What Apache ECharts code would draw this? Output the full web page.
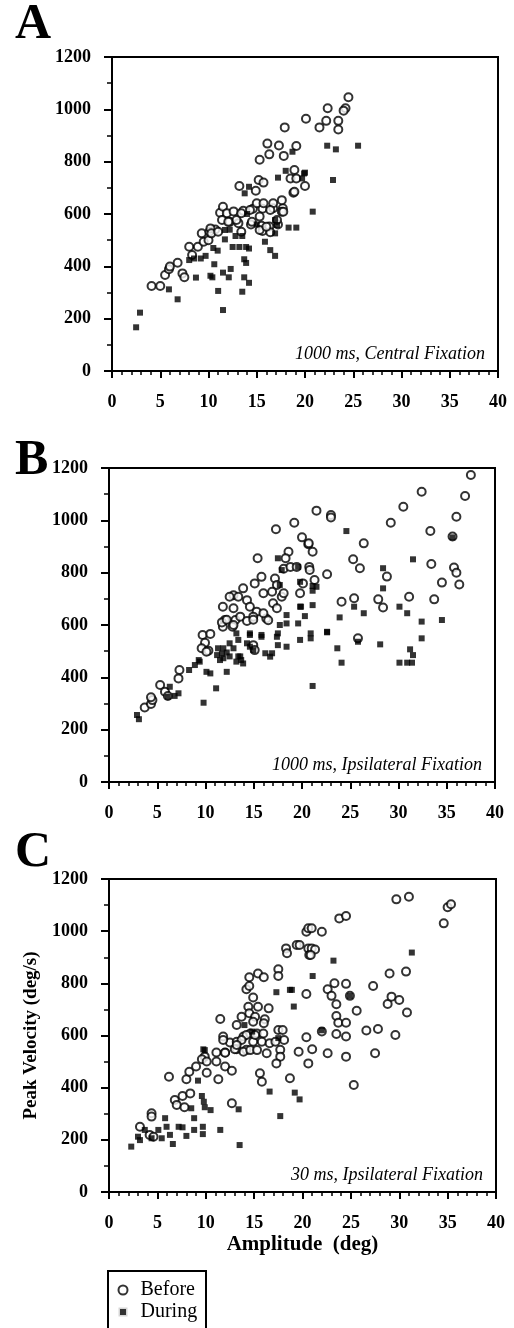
<!DOCTYPE html>
<html><head><meta charset="utf-8">
<script src="https://cdn.jsdelivr.net/npm/echarts@6/dist/echarts.min.js"></script>
<style>html,body{margin:0;padding:0;background:#fff}#c{width:514px;height:1328px}</style>
</head><body><div id="c"></div>
<script>
// ---- data (x = amplitude deg, y = peak velocity deg/s) ----
var xTicks = [0, 5, 10, 15, 20, 25, 30, 35, 40];
var yTicks = [0, 200, 400, 600, 800, 1000, 1200];
var panelLetters = ['A', 'B', 'C'];
var panelNotes = ['1000 ms, Central Fixation', '1000 ms, Ipsilateral Fixation', '30 ms, Ipsilateral Fixation'];
var seriesNames = ['Before', 'During'];

var aBefore = [[4.1,325],[5.0,325],[5.5,367],[5.9,389],[6.0,399],[6.8,414],[7.3,373],[7.5,358],[8.0,475],[8.3,443],[8.9,475],[9.3,526],[9.5,494],[10.0,500],[10.1,532],[10.7,541],[11.2,605],[11.5,628],[11.9,603],[11.4,577],[12.6,610],[13.6,612],[14.6,620],[15.6,620],[16.7,622],[17.7,622],[12.2,570],[13.1,565],[14.4,560],[15.5,555],[16.3,552],[17.2,560],[15.6,535],[16.4,530],[17.6,609],
[20.1,964],[17.9,931],[16.1,869],[17.3,862],[19.1,860],[16.3,828],[17.8,822],[15.3,807],[18.9,768],[18.5,736],[20.0,707],[18.8,681],[13.2,707],[14.9,689],[15.2,730],[15.7,720],
[24.5,1046],[24.2,1004],[24.0,995],[22.35,1004],[22.2,956],[21.5,931],[23.45,956],[23.45,923],[19.1,736],[18.9,685],
[15.0,641],[15.7,641],[16.7,641],[17.6,653],[17.75,609],[16.4,615],[15.3,590],[14.5,570],[12.9,577],[12.05,570],[10.2,545],[10.3,526],[11.0,532],[13.4,532],[15.3,539],[16.0,551],[17.1,577],[14.3,615],[13.4,603]];
var aDuring = [[2.5,167],[2.9,223],[5.9,312],[6.8,274],[8.7,357],[8.0,424],[8.5,430],[9.2,430],[10.2,364],[10.4,358],[10.6,408],[11.0,306],[11.5,233],[11.5,376],[12.1,358],[12.3,390],[10.95,460],[11.7,503],[13.5,303],[13.7,427],[13.9,413],[13.7,358],[14.2,337],[12.5,474],[13.2,474],[13.9,474],[14.2,468],[12.8,516],[13.5,516],[15.85,494],[16.4,462],[16.9,440],[16.9,526],[17.1,558],[18.3,548],[19.1,548],[11.7,539],
[18.0,765],[17.2,739],[19.9,755],[14.2,704],[13.75,679],[22.3,861],[23.2,847],[25.5,861],[22.9,730],[20.0,758],[19.7,736],[20.8,609],[18.7,838],[16.9,577],[15.0,560],[14.0,600],[12.2,540],[10.5,470],[9.7,440]];

var bBefore = [[19.2,991],[17.3,966],[20.0,935],[20.65,909],[18.6,880],[18.3,855],[15.4,855],[18.1,815],[18.8,822],[19.45,822],[20.75,822],[15.8,784],[15.1,759],[13.9,740],[12.9,714],[12.5,708],[11.8,670],[17.2,778],[17.4,753],[16.9,727],[17.9,708],[18.1,721],[17.0,683],[17.4,664],[20.1,759],[19.8,721],[13.4,708],[14.3,695],[16.0,721],[14.6,670],[15.3,651],[16.3,625],[14.95,632],[16.0,645],[12.9,664],[12.0,619],[13.1,619],[13.6,632],[11.8,593],[12.8,593],[9.7,562],[10.5,566],[9.95,532],[9.6,511],[10.3,502],
[3.7,285],[4.35,298],[4.5,313],[4.35,324],[5.3,371],[5.8,345],[6.1,329],[7.3,428],[7.2,396],[10.1,498],[11.7,610],[12.2,620],[12.9,600],[14.3,615],[14.95,620],[16.5,618],[14.95,523],[15.1,504],
[37.5,1173],[32.4,1109],[36.9,1093],[30.5,1052],[36.0,1014],[21.5,1037],[23.0,1020],[23.0,1011],[29.2,991],[33.3,959],[35.6,938],[20.7,912],[21.1,880],[26.4,912],[25.3,851],[26.0,817],[33.4,833],[35.75,820],[36.0,800],[36.3,755],[34.5,762],[28.8,785],[20.8,810],[22.6,794],[21.3,772],[24.1,689],[25.4,702],[27.9,698],[28.4,667],[31.1,708],[33.7,698],[25.8,549]];
var bDuring = [[17.5,855],[17.9,810],[17.7,753],[19.6,822],[19.8,670],[18.4,638],[19.6,606],[17.7,600],[15.8,562],[17.5,568],[18.4,517],[17.5,523],[19.8,543],[16.9,492],[14.6,568],[13.4,543],[14.3,530],[14.6,517],[14.95,504],[11.7,490],[12.2,495],[11.2,485],[12.5,480],[13.4,480],[13.6,480],[9.3,466],[11.5,466],
[2.9,256],[3.1,240],[6.3,364],[6.1,326],[6.8,329],[7.2,339],[8.3,428],[8.9,447],[9.4,460],[9.8,303],[11.1,358],[10.1,421],[10.5,415],[12.2,421],[11.85,473],[11.3,511],[11.85,511],[12.9,511],[12.5,530],[13.2,460],[13.9,453],[13.7,466],[13.2,568],[14.6,562],[15.8,555],[16.2,492],[16.7,479],[17.4,555],[18.4,606],
[24.6,959],[31.5,851],[28.4,817],[28.4,740],[19.8,765],[21.1,749],[21.5,746],[21.1,731],[21.1,676],[19.9,670],[20.3,634],[20.9,568],[20.9,549],[22.6,574],[23.9,629],[26.4,645],[25.4,670],[30.1,670],[30.9,645],[32.4,613],[34.5,619],[32.4,549],[28.1,526],[23.66,511],[31.2,507],[31.5,485],[24.1,456],[21.1,367],[25.8,536],[30.1,456],[30.9,456],[31.4,456],[35.6,935],[22.6,572]];

var cBefore = [[20.4,998],[20.6,1011],[18.3,934],[18.4,915],[19.4,947],[19.7,947],[20.6,934],[20.7,909],[17.5,854],[17.5,828],[14.5,823],[15.4,838],[16.0,823],[14.2,777],[14.5,790],[14.9,746],[20.4,759],[14.4,710],[15.4,710],[16.5,704],[14.5,685],[15.1,672],[16.1,662],[13.7,672],[13.2,640],[11.5,663],
[11.8,596],[12.5,573],[13.2,576],[13.9,596],[14.6,608],[15.3,608],[15.95,608],[14.9,576],[15.8,576],[16.6,570],[17.5,621],[17.95,621],[18.1,583],[17.7,545],[17.2,576],[20.4,593],[19.6,538],[16.3,532],[14.2,545],[13.2,547],[12.0,535],[11.1,535],[9.9,519],
[3.2,250],[4.4,302],[4.4,289],[4.2,219],[4.6,212],[6.2,442],[6.8,353],[7.0,334],[7.8,325],[7.6,368],[8.4,378],[8.0,432],[8.3,461],[9.0,481],[9.6,509],[10.1,500],[10.1,457],[11.1,500],[11.3,432],[12.0,481],[12.7,465],[12.0,534],[13.0,547],[11.8,583],[12.7,340],[14.9,653],[16.0,647],[15.1,602],[14.2,602],[13.7,583],[13.2,564],[13.9,538],[14.6,544],[15.3,544],[17.7,519],[17.3,493],[15.6,455],[15.8,423],[18.7,436],[20.6,493],
[29.7,1122],[31.0,1132],[35.0,1092],[35.35,1103],[34.6,1030],[23.8,1049],[24.5,1058],[20.95,1011],[22.0,998],[20.95,934],[21.3,930],[20.85,909],[29.0,838],[30.7,845],[23.3,800],[24.5,798],[22.6,777],[23.0,752],[23.5,720],[24.9,752],[25.6,695],[27.3,790],[28.8,721],[29.2,749],[30.0,736],[30.8,688],[23.5,675],[23.7,649],[24.5,649],[24.5,596],[23.5,606],[22.0,615],[26.6,619],[27.8,625],[29.6,602],[21.0,547],[22.6,532],[24.5,519],[27.5,532],[25.3,410]];
var cDuring = [[17.3,766],[18.7,775],[19.1,711],[9.75,547],[2.3,174],[3.0,212],[3.2,199],[3.7,238],[4.4,206],[5.1,238],[5.45,206],[5.8,283],[5.95,250],[6.3,219],[6.6,184],[7.2,250],[7.6,248],[8.0,215],[8.8,283],[8.8,238],[9.7,250],[9.7,222],[8.5,321],[9.6,368],[9.8,346],[9.9,325],[10.5,314],[9.2,427],[9.9,544],[11.5,238],[13.4,317],[17.7,291],[13.5,180],[16.6,385],[19.2,381],[19.7,355],[23.2,887],[21.05,828],[31.3,918],[18.9,775],[24.9,752],[22.0,620],[14.0,640],[14.8,615],[17.5,590]];

var panelData = [[aBefore, aDuring], [bBefore, bDuring], [cBefore, cDuring]];

// ---- layout ----
var grids = [
  {left: 112, top: 57, width: 386, height: 314},
  {left: 109, top: 468, width: 386, height: 314},
  {left: 109, top: 879, width: 387, height: 313}
];
var letterY = [50, 486, 878];
var FONT = '"Liberation Serif", "Times New Roman", serif';

var chart = echarts.init(document.getElementById('c'), null, {renderer: 'canvas'});
var xAxes = [], yAxes = [], series = [], graphics = [];
grids.forEach(function (g, i) {
  g.show = true; g.borderColor = '#000'; g.borderWidth = 2; g.backgroundColor = 'transparent';
  var last = i === 2;
  xAxes.push({
    gridIndex: i, type: 'value', min: xTicks[0], max: xTicks[xTicks.length - 1], interval: xTicks[1] - xTicks[0],
    axisLine: {show: true, onZero: false, lineStyle: {color: '#000', width: 2}},
    axisTick: {show: true, length: 7, lineStyle: {color: '#000', width: 2}},
    minorTick: {show: true, splitNumber: 5, length: 4, lineStyle: {color: '#000', width: 1.5}},
    splitLine: {show: false},
    axisLabel: {color: '#000', fontFamily: FONT, fontWeight: 'bold', fontSize: 18, margin: 22,
      formatter: function (v) { return String(v); }},
    name: last ? 'Amplitude  (deg)' : '', nameLocation: 'middle', nameGap: 42,
    nameTextStyle: {color: '#000', fontFamily: FONT, fontWeight: 'bold', fontSize: 21}
  });
  yAxes.push({
    gridIndex: i, type: 'value', min: yTicks[0], max: yTicks[yTicks.length - 1], interval: yTicks[1] - yTicks[0],
    axisLine: {show: true, onZero: false, lineStyle: {color: '#000', width: 2}},
    axisTick: {show: true, length: 8, lineStyle: {color: '#000', width: 2}},
    minorTick: {show: true, splitNumber: 2, length: 5, lineStyle: {color: '#000', width: 1.5}},
    splitLine: {show: false},
    axisLabel: {color: '#000', fontFamily: FONT, fontWeight: 'bold', fontSize: 18, margin: 21,
      formatter: function (v) { return String(v); }},
    name: last ? 'Peak Velocity (deg/s)' : '', nameLocation: 'middle', nameGap: 68, nameRotate: 90,
    nameTextStyle: {color: '#000', fontFamily: FONT, fontWeight: 'bold', fontSize: 19}
  });
  series.push({
    name: seriesNames[0], type: 'scatter', xAxisIndex: i, yAxisIndex: i, data: panelData[i][0],
    symbol: 'circle', symbolSize: 8,
    itemStyle: {color: '#fff', borderColor: '#000', borderWidth: 2}, emphasis: {disabled: true}
  });
  series.push({
    name: seriesNames[1], type: 'scatter', xAxisIndex: i, yAxisIndex: i, data: panelData[i][1],
    symbol: 'rect', symbolSize: 6,
    itemStyle: {color: '#000'}, emphasis: {disabled: true}
  });
  graphics.push({type: 'text', x: 15, y: letterY[i], style: {text: panelLetters[i], font: 'bold 50px ' + FONT, fill: '#000', textAlign: 'left', textVerticalAlign: 'bottom'}});
  graphics.push({type: 'text', x: g.left + g.width - 13, y: g.top + g.height - 8,
    style: {text: panelNotes[i], font: 'italic 18px ' + FONT, fill: '#000', textAlign: 'right', textVerticalAlign: 'bottom'}});
});
// legend frame (runs off the bottom of the page as in the original)
graphics.push({type: 'rect', shape: {x: 108, y: 1271, width: 98, height: 80},
  style: {fill: 'none', stroke: '#000', lineWidth: 2}, z: 10});

chart.setOption({
  animation: false,
  backgroundColor: '#fff',
  grid: grids,
  xAxis: xAxes,
  yAxis: yAxes,
  series: series,
  graphic: graphics,
  legend: {
    left: 108, top: 1271, orient: 'vertical', itemWidth: 9, itemHeight: 9, itemGap: 2,
    padding: [9, 10, 2, 9],
    textStyle: {color: '#000', fontFamily: FONT, fontSize: 20, padding: [0, 0, 0, 8]},
    selectedMode: false,
    data: [
      {name: seriesNames[0], icon: 'circle', itemStyle: {color: '#fff', borderColor: '#000', borderWidth: 2}},
      {name: seriesNames[1], icon: 'path://M0 0H10V10H0Z', itemStyle: {color: '#000', borderColor: '#fff', borderWidth: 3}}
    ]
  }
});
</script></body></html>
